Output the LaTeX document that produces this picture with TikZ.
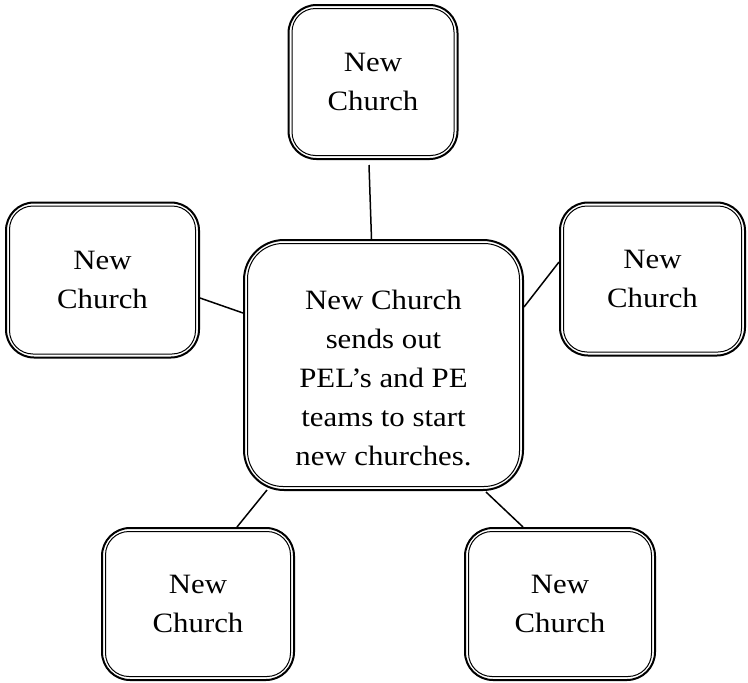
\documentclass[tikz,border=0pt]{standalone}
\usepackage{fontspec}
\setmainfont{Liberation Serif}[FakeStretch=1.1]
\begin{document}
\begin{tikzpicture}[x=1pt,y=-1pt,
  churchbox/.style n args={3}{draw, line width=2pt, rounded corners=#3,
    minimum width=#1pt, minimum height=#2pt, inner sep=0pt, align=center,
    font=\fontsize{28}{39}\selectfont},
  innerline/.style={draw, line width=1pt},
  link/.style={draw, line width=1.5pt}]
\useasboundingbox (0,0) rectangle (748,683);

% outer boxes (the strut lowers the text block inside the middle box)
\node[churchbox={279}{250}{40pt}] (c) at (383.5,365)
  {\rule{0pt}{45pt}New Church\\sends out\\PEL’s and PE\\teams to start\\new churches.};
\node[churchbox={169}{154}{28pt}] (t)  at (373,82)    {New\\Church};
\node[churchbox={193}{155}{28pt}] (l)  at (102.5,280) {New\\Church};
\node[churchbox={185}{153}{28pt}] (r)  at (652.5,279) {New\\Church};
\node[churchbox={192}{152}{28pt}] (bl) at (198,604)   {New\\Church};
\node[churchbox={190}{152}{28pt}] (br) at (560,604)   {New\\Church};

% inner lines of the double frames
\foreach \n/\rr in {c/35.5, t/23.5, l/23.5, r/23.5, bl/23.5, br/23.5}
  \draw[innerline, rounded corners=\rr pt]
    ([shift={(4.5pt,-4.5pt)}]\n.north west) rectangle ([shift={(-4.5pt,4.5pt)}]\n.south east);

% connectors
\draw[link] ([xshift=-4pt,yshift=-5pt]t.south) -- ([xshift=-12pt]c.north);
\draw[link] ([yshift=-18pt]l.east) -- ([yshift=52pt]c.west);
\draw[link] ([yshift=17pt]r.west) -- ([yshift=58pt]c.east);
\draw[link] ([xshift=39pt]bl.north) -- ([xshift=-116.5pt,yshift=1pt]c.south);
\draw[link] ([xshift=-37pt]br.north) -- ([xshift=102.5pt,yshift=-1pt]c.south);
\end{tikzpicture}
\end{document}
